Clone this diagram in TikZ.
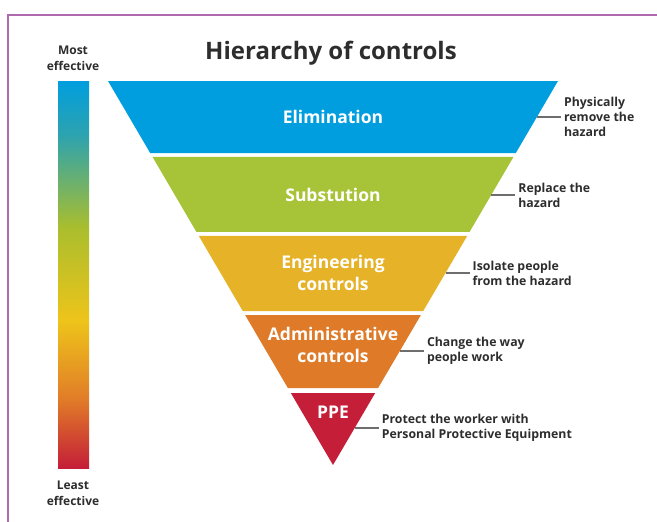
\documentclass[tikz,border=0pt]{standalone}
\usepackage{fontspec}
\setmainfont{Open Sans}
\usepackage{tikz}
\usetikzlibrary{positioning,calc}
\definecolor{hcBlue}{RGB}{0,158,222}
\definecolor{hcGreen}{RGB}{167,196,57}
\definecolor{hcYellow}{RGB}{230,178,40}
\definecolor{hcOrange}{RGB}{222,122,40}
\definecolor{hcRed}{RGB}{196,30,56}
\definecolor{hcText}{RGB}{45,45,45}
\definecolor{hcFrame}{RGB}{175,105,175}
\definecolor{hcLead}{RGB}{110,110,110}
\pgfdeclareverticalshading{effbar}{100bp}{%
  color(0bp)=(hcRed); color(25bp)=(hcRed);
  color(34bp)=(rgb,255:red,225;green,125;blue,40);
  color(44bp)=(rgb,255:red,238;green,196;blue,26);
  color(56bp)=(rgb,255:red,170;green,190;blue,45);
  color(68bp)=(rgb,255:red,45;green,163;blue,175);
  color(75bp)=(hcBlue); color(100bp)=(hcBlue)}

\begin{document}
\begin{tikzpicture}[x=1pt,y=-1pt,
  bandtxt/.style={text=white, font=\fontsize{17.5}{22}\selectfont\bfseries, align=center},
  note/.style={text=hcText, font=\fontsize{12.3}{15}\selectfont\bfseries, align=left, inner sep=3pt},
  lead/.style={hcLead, line width=1.2pt}]
  \useasboundingbox (0,0) rectangle (657,522);

  % frame
  \draw[hcFrame, line width=1.5pt] (657,15) -- (8,15) -- (8,522);

  % effectiveness bar
  \shade[shading=effbar] (58,81) rectangle (89,468);
  \node[note, align=center, font=\fontsize{12}{16}\selectfont\bfseries] (most) at (73,58) {Most\\effective};
  \node[note, align=center, font=\fontsize{12}{16}\selectfont\bfseries] (least) at (73,493) {Least\\effective};

  % title
  \node[text=hcText, font=\fontsize{24}{28}\selectfont\bfseries] (title) at (331,53) {Hierarchy of controls};

  % inverted triangle
  \coordinate (tl) at (108,81);
  \coordinate (tr) at (558,81);
  \coordinate (apex) at (333,465);
  \foreach \ta/\tb/\col in {0/0.1875/hcBlue, 0.1979/0.3932/hcGreen, 0.4036/0.5990/hcYellow,
                            0.6094/0.7995/hcOrange, 0.8125/1/hcRed}
    \fill[\col] ($(tl)!\ta!(apex)$) -- ($(tr)!\ta!(apex)$) -- ($(tr)!\tb!(apex)$) -- ($(tl)!\tb!(apex)$) -- cycle;

  \node[bandtxt] (elim) at (333,117) {Elimination};
  \node[bandtxt] (subst) at (333,195) {Substution};
  \node[bandtxt] (eng) at (333,273) {Engineering\\controls};
  \node[bandtxt] (admin) at (333,345) {Administrative\\controls};
  \node[bandtxt] (ppe) at (333,412) {PPE};

  % notes
  \coordinate (e1) at ($(tr)!0.0938!(apex)$);
  \coordinate (e2) at ($(tr)!0.2969!(apex)$);
  \coordinate (e3) at ($(tr)!0.5!(apex)$);
  \coordinate (e4) at ($(tr)!0.7031!(apex)$);
  \coordinate (e5) at ($(tr)!0.9036!(apex)$);
  \node[note, right=24pt of e1] (n1) {Physically\\remove the\\hazard};
  \node[note, right=24pt of e2] (n2) {Replace the\\hazard};
  \node[note, right=24pt of e3] (n3) {Isolate people\\from the hazard};
  \node[note, right=24pt of e4] (n4) {Change the way\\people work};
  \node[note, right=24pt of e5] (n5) {Protect the worker with\\Personal Protective Equipment};
  \draw[lead] (e1) -- (n1.west);
  \draw[lead] (e2) -- (n2.west);
  \draw[lead] (e3) -- (n3.west);
  \draw[lead] (e4) -- (n4.west);
  \draw[lead] (e5) -- (n5.west);
\end{tikzpicture}
\end{document}
